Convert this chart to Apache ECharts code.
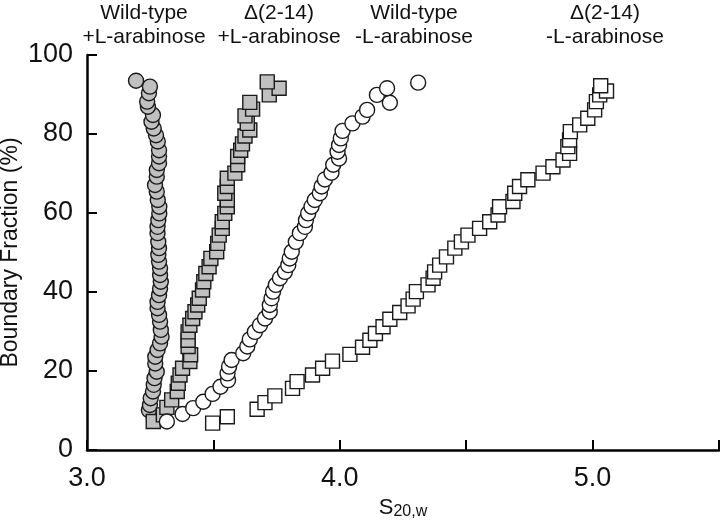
<!DOCTYPE html>
<html>
<head>
<meta charset="utf-8">
<script src="https://cdn.jsdelivr.net/npm/echarts@6/dist/echarts.min.js"></script>
<style>html,body{margin:0;padding:0;background:#fff}#c{width:720px;height:521px}</style>
</head>
<body>
<div id="c"></div>
<script>
// ---- data (S20,w vs boundary fraction %) ----
var wtPlusX = [3.245,3.249,3.252,3.261,3.264,3.267,3.276,3.270,3.270,3.279,3.289,3.295,3.292,3.289,3.285,3.279,3.279,3.285,3.289,3.292,3.289,3.289,3.285,3.282,3.285,3.282,3.279,3.279,3.282,3.286,3.286,3.280,3.276,3.269,3.276,3.276,3.285,3.285,3.285,3.280,3.273,3.264,3.255,3.261,3.241,3.238,3.245,3.249,3.194];
var wtPlusY = [10.1,11.4,13.1,14.8,16.5,18.2,19.8,21.9,23.6,25.3,27.0,28.7,30.4,32.5,34.2,35.9,37.5,39.2,40.9,42.6,44.3,46.0,47.7,49.4,51.1,52.7,54.9,56.5,58.2,59.9,61.6,63.3,65.4,67.1,69.2,70.9,72.6,74.3,75.9,78.1,79.7,81.4,83.1,84.8,86.9,88.2,90.3,92.0,93.5];

var delPlusX = [3.262,3.302,3.316,3.335,3.357,3.361,3.368,3.378,3.407,3.410,3.400,3.400,3.400,3.407,3.418,3.427,3.438,3.444,3.457,3.462,3.470,3.483,3.490,3.513,3.517,3.523,3.535,3.535,3.545,3.555,3.555,3.545,3.555,3.555,3.585,3.596,3.596,3.608,3.615,3.625,3.644,3.634,3.625,3.655,3.644,3.721,3.760,3.713];
var delPlusY = [7.2,8.9,10.8,12.7,14.8,16.9,19.0,20.7,22.4,24.1,26.2,27.8,29.9,31.6,33.3,35.0,36.7,38.4,40.5,42.6,44.7,46.4,48.5,50.2,52.3,54.4,56.1,57.8,59.9,61.6,63.3,65.0,66.7,68.8,70.1,72.2,74.3,75.9,77.5,79.5,81.0,82.7,84.6,86.3,88.0,89.9,91.6,93.2];

var wtMinusX = [3.316,3.378,3.420,3.460,3.497,3.528,3.558,3.556,3.562,3.572,3.618,3.634,3.644,3.664,3.684,3.704,3.723,3.723,3.730,3.736,3.747,3.763,3.783,3.796,3.802,3.810,3.826,3.842,3.862,3.866,3.875,3.888,3.901,3.921,3.928,3.941,3.967,3.974,3.997,3.991,3.997,4.004,4.011,4.050,4.090,4.108,4.198,4.147,4.187,4.310];
var wtMinusY = [7.2,9.1,10.6,12.2,14.2,16.0,17.7,19.4,21.1,22.8,24.5,26.2,28.0,29.9,31.6,33.3,35.0,36.7,38.4,40.1,41.8,43.5,45.1,46.8,48.5,50.2,52.7,54.9,56.5,58.2,59.9,61.6,63.3,65.0,66.7,68.5,70.2,72.2,73.8,75.5,77.2,78.9,80.8,82.7,84.4,86.1,87.9,89.9,91.6,93.0];

var delMinusX = [3.497,3.555,3.673,3.704,3.743,3.813,3.831,3.892,3.932,3.971,4.040,4.090,4.119,4.141,4.171,4.198,4.237,4.270,4.290,4.303,4.349,4.369,4.375,4.395,4.422,4.455,4.481,4.507,4.553,4.593,4.626,4.632,4.685,4.692,4.711,4.744,4.804,4.843,4.883,4.909,4.902,4.909,4.912,4.949,4.981,5.008,5.015,5.028,5.055,5.032];
var delMinusY = [6.8,8.4,10.3,12.0,13.7,15.6,17.3,19.0,20.7,22.5,24.2,26.0,27.8,29.5,31.2,33.1,34.8,36.5,38.2,40.1,41.8,43.5,45.1,46.8,48.9,51.1,52.7,54.4,56.1,57.8,59.5,61.6,62.9,65.0,66.7,68.4,70.1,71.7,73.4,75.1,76.8,78.5,80.6,82.3,84.0,86.1,88.2,89.9,90.9,92.2];

var headerLine1 = ['Wild-type', 'Δ(2-14)', 'Wild-type', 'Δ(2-14)'];
var headerLine2 = ['+L-arabinose', '+L-arabinose', '-L-arabinose', '-L-arabinose'];
var headerCenters = [144, 279, 414, 605];

var xTicks = [3.0, 4.0, 5.0];

function zip(xs, ys) { return xs.map(function (x, i) { return [x, ys[i]]; }); }

var FONT = '"Liberation Sans", Arial, Helvetica, sans-serif';
var chart = echarts.init(document.getElementById('c'), null, {renderer: 'canvas'});

var graphics = [];
headerCenters.forEach(function (cx, i) {
  graphics.push({type: 'text', x: cx, y: 13, style: {text: headerLine1[i], x: 0, y: 0, align: 'center', verticalAlign: 'middle', fill: '#111', font: '21px ' + FONT}});
  graphics.push({type: 'text', x: cx, y: 37, style: {text: headerLine2[i], x: 0, y: 0, align: 'center', verticalAlign: 'middle', fill: '#111', font: '21px ' + FONT}});
});

function series(name, data, symbol, fill) {
  return {
    name: name, type: 'scatter', data: data, symbol: symbol, symbolSize: symbol === 'circle' ? 15 : 14,
    itemStyle: {color: fill, borderColor: '#1a1a1a', borderWidth: 1.4, opacity: 1},
    emphasis: {disabled: true}, animation: false
  };
}

chart.setOption({
  animation: false,
  backgroundColor: '#fff',
  grid: {left: 87, right: 1, top: 55, bottom: 71, containLabel: false, outerBoundsMode: 'none'},
  xAxis: {
    type: 'value', min: 3.0, max: 5.5, interval: 0.5,
    name: '{s|S}{sub|20,w}', nameLocation: 'middle', nameGap: 44,
    nameTextStyle: {rich: {s: {fontSize: 22, fontFamily: FONT, color: '#111'}, sub: {fontSize: 16, fontFamily: FONT, color: '#111', verticalAlign: 'bottom', padding: [8, 0, 0, 0]}}},
    axisLine: {show: true, lineStyle: {color: '#000', width: 2.5}},
    axisTick: {show: true, inside: true, length: 10, lineStyle: {color: '#000', width: 2}},
    splitLine: {show: false},
    axisLabel: {
      margin: 15, fontSize: 27, fontFamily: FONT, color: '#111',
      formatter: function (v) {
        for (var i = 0; i < xTicks.length; i++) if (Math.abs(v - xTicks[i]) < 1e-6) return v.toFixed(1);
        return '';
      }
    }
  },
  yAxis: {
    type: 'value', min: 0, max: 100, interval: 20,
    name: 'Boundary Fraction (%)', nameLocation: 'middle', nameGap: 65, nameRotate: 90, nameMoveOverlap: false,
    nameTextStyle: {fontSize: 23, fontFamily: FONT, color: '#111'},
    axisLine: {show: true, lineStyle: {color: '#000', width: 2.5}},
    axisTick: {show: true, inside: true, length: 10, lineStyle: {color: '#000', width: 2}},
    splitLine: {show: false},
    axisLabel: {margin: 14, fontSize: 27, fontFamily: FONT, color: '#111'}
  },
  graphic: graphics,
  series: [
    series('Wild-type +L-arabinose', zip(wtPlusX, wtPlusY), 'circle', '#c0c0c0'),
    series('Δ(2-14) +L-arabinose', zip(delPlusX, delPlusY), 'rect', '#c0c0c0'),
    series('Wild-type -L-arabinose', zip(wtMinusX, wtMinusY), 'circle', '#ffffff'),
    series('Δ(2-14) -L-arabinose', zip(delMinusX, delMinusY), 'rect', '#ffffff')
  ]
});
</script>
</body>
</html>
